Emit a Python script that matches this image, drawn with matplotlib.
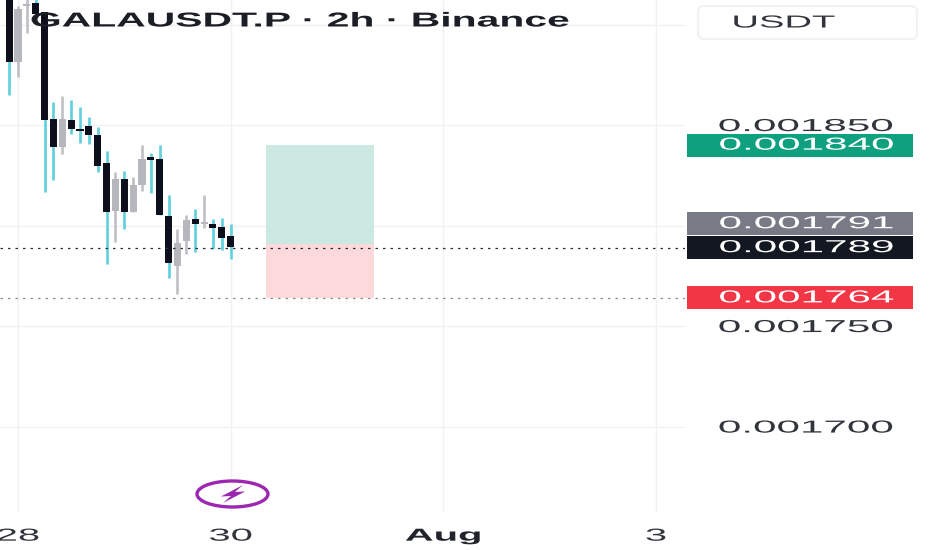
import matplotlib
matplotlib.use("Agg")
import matplotlib.pyplot as plt
import numpy as np
from matplotlib.patches import Ellipse, FancyBboxPatch, Polygon, Rectangle
from matplotlib.patheffects import AbstractPathEffect
from matplotlib.transforms import Affine2D

plt.rcParams["font.family"] = ["Liberation Sans", "DejaVu Sans"]

# prices in millionths of USDT
opens = [1917, 1881.2, 1909.4, 1910.9, 1906, 1853, 1839.1, 1852.5, 1848, 1849.5, 1845.1, 1831.2, 1807,
         1823.3, 1806.5, 1820.3, 1834.2, 1833.2, 1804.5, 1779.7, 1792.1, 1803.5, 1801, 1801, 1799.5, 1794.6]
highs = [1925, 1909.4, 1914.4, 1914.4, 1906, 1861.4, 1864.4, 1862.4, 1858.9, 1854, 1849, 1837.1, 1826.8,
         1827.3, 1824.3, 1840.1, 1836.2, 1840.1, 1815.4, 1798.5, 1805, 1808.4, 1815.4, 1803.5, 1804, 1801]
lows = [1864.9, 1873.8, 1895.6, 1904, 1816.9, 1822.8, 1835.7, 1845.6, 1841.1, 1840.6, 1826.8, 1780.7, 1791.6,
        1798.5, 1806.5, 1817.4, 1816.4, 1805, 1773.8, 1765.9, 1785.7, 1786.7, 1799, 1788.1, 1787.7, 1783.2]
closes = [1881.2, 1907.9, 1910.4, 1905, 1852.5, 1839.1, 1853, 1848, 1847, 1845.1, 1829.7, 1806.5, 1823.3,
          1806.5, 1820.3, 1833.2, 1832.7, 1805, 1781.2, 1791.1, 1803, 1801, 1802, 1799, 1794, 1789.1]

date_ticks = [1, 25, 49, 73]
date_labels = ["28", "30", "Aug", "3"]
price_ticks = [1900, 1850, 1800, 1750, 1700]
price_labels = ["", "0.001850", "", "0.001750", "0.001700"]

target_price = 1840
entry_price = 1791
last_price = 1789
stop_price = 1764
position_start = 29
position_end = 41.2

title = "GALAUSDT.P · 2h · Binance"

DARK = "#0d0f1c"
GREY = "#b6b7bc"
CYAN = "#5fd0dc"
GRID = "#f1f1f4"
TEXT = "#33353d"


class StretchX(AbstractPathEffect):
    # the reference picture is squeezed vertically, so the glyphs have to be wide
    def __init__(self, sx):
        super().__init__()
        self.sx = sx

    def draw_path(self, renderer, gc, tpath, affine, rgbFace=None):
        ext = tpath.get_extents()
        cx = (ext.x0 + ext.x1) / 2
        stretch = Affine2D().translate(-cx, 0).scale(self.sx, 1).translate(cx, 0)
        renderer.draw_path(gc, tpath, stretch + affine, rgbFace)


fig = plt.figure(figsize=(9.32, 5.5), dpi=100)
ax = fig.add_axes([0, 38 / 550, 685 / 932, 512 / 550])
ax.set_xlim(-1.03, 76.28)
ax.set_ylim(1657.5, 1912.2)
for spine in ax.spines.values():
    spine.set_visible(False)

opens = np.array(opens)
closes = np.array(closes)
highs = np.array(highs)
lows = np.array(lows)
idx = np.arange(len(opens))
down = closes < opens

ax.grid(True, color=GRID, linewidth=1)
ax.set_axisbelow(True)
ax.set_xticks(date_ticks, date_labels)
ax.set_yticks(price_ticks, price_labels)
ax.yaxis.tick_right()
ax.tick_params(axis="both", length=0)
ax.tick_params(axis="x", pad=12, labelsize=12.5, labelcolor=TEXT)
ax.tick_params(axis="y", pad=87, labelsize=12.5, labelcolor=TEXT)
for lab in ax.get_yticklabels():
    lab.set_ha("center")
    lab.set_path_effects([StretchX(2.43)])
for lab in ax.get_xticklabels():
    lab.set_path_effects([StretchX(2.3)])
ax.get_xticklabels()[2].set_fontweight("bold")
ax.get_xticklabels()[2].set_color("#22242c")

ax.vlines(idx[down], lows[down], highs[down], color=CYAN, linewidth=1.9, zorder=2)
ax.vlines(idx[~down], lows[~down], highs[~down], color="#bfc0c4", linewidth=1.9, zorder=2)
ax.bar(idx[down], (opens - closes)[down], bottom=closes[down], width=0.8, color=DARK, zorder=3)
ax.bar(idx[~down], (closes - opens)[~down], bottom=opens[~down], width=0.8, color=GREY, zorder=3)

ax.add_patch(Rectangle((position_start, entry_price), position_end - position_start, target_price - entry_price,
                       facecolor="#cce9e1", edgecolor="none", zorder=1.5))
ax.add_patch(Rectangle((position_start, stop_price), position_end - position_start, entry_price - stop_price,
                       facecolor="#fdd9dc", edgecolor="none", zorder=1.5))

ax.axhline(last_price, color="#2a2e39", linewidth=0.9, linestyle=(0, (2, 4)), zorder=4)
ax.axhline(stop_price, color="#8a8d96", linewidth=0.9, linestyle=(0, (2, 4)), zorder=4)

# price tags on the right
tags = [
    (target_price, target_price, "#0fa07f"),
    (entry_price, entry_price + 9.9, "#787b86"),
    (last_price, last_price, "#131722"),
    (stop_price, stop_price, "#f23645"),
]
yt = ax.get_yaxis_transform()
for value, ypos, color in tags:
    ax.add_patch(Rectangle((687 / 685, ypos - 5.7), 226 / 685, 11.4, transform=yt, facecolor=color,
                           edgecolor="none", clip_on=False, zorder=5))
    ax.text(806.5 / 685, ypos, f"{value / 1e6:.6f}", transform=yt, color="white", fontsize=12.5,
            ha="center", va="center", zorder=6, path_effects=[StretchX(2.43)])

# everything outside the price scale is placed in picture pixels
px = Affine2D().scale(1, -1).translate(0, 550)

fig.text(300, 21, title, transform=px, color="#1c1e26", fontsize=14.5, fontweight="bold",
         ha="center", va="center", zorder=10, path_effects=[StretchX(2.03)])

fig.add_artist(FancyBboxPatch((698, 6), 219, 33, boxstyle="round,pad=0,rounding_size=6", transform=px,
                              facecolor="white", edgecolor="#f2f2f4", linewidth=1.5))
fig.text(784, 23, "USDT", transform=px, color=TEXT, fontsize=12.5, ha="center", va="center",
         path_effects=[StretchX(2.2)])

fig.add_artist(Ellipse((232.5, 494), 71, 26, transform=px, facecolor="white", edgecolor="#9c27b0", linewidth=2.4))
fig.add_artist(Polygon([(243, 485), (221, 496.5), (231, 496), (223, 503), (245, 491.5), (235, 492)],
                       closed=True, transform=px, facecolor="#9c27b0", edgecolor="none"))

fig.savefig("out.png", dpi=100)
